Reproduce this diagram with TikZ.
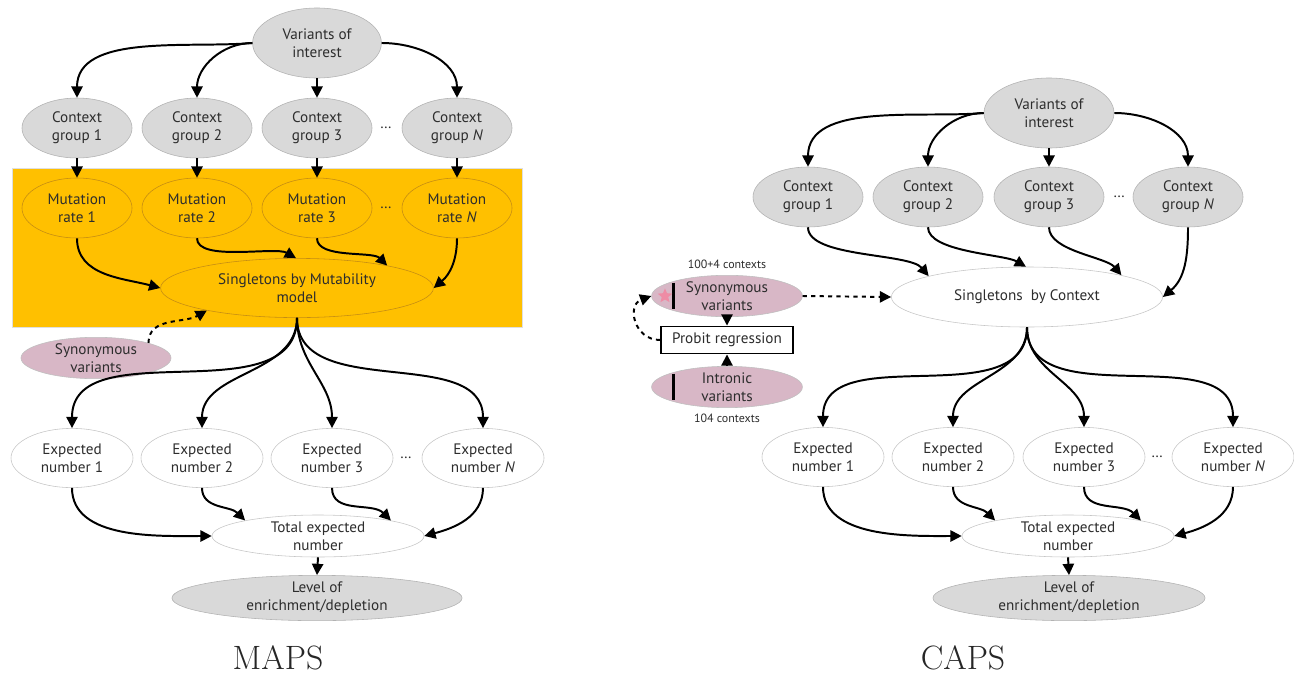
\documentclass[tikz,border=0pt]{standalone}
\usepackage{fontspec}
\newfontfamily\diagfont{PT Sans}
\usetikzlibrary{shapes.geometric,arrows.meta,positioning}
\definecolor{boxorange}{RGB}{255,192,0}
\definecolor{mutline}{RGB}{196,140,20}
\definecolor{nodegrey}{RGB}{217,217,217}
\definecolor{nodepink}{RGB}{216,183,198}
\definecolor{starpink}{RGB}{238,140,165}
\definecolor{txtgrey}{RGB}{45,45,45}

\begin{document}
\begin{tikzpicture}[x=0.025cm, y=0.025cm,
    every node/.style={font=\diagfont\fontsize{10.8}{13}\selectfont, text=txtgrey, align=center},
    greynode/.style={ellipse, draw=gray!60, fill=nodegrey, inner sep=0pt, minimum width=2.75cm, minimum height=1.5cm},
    mutnode/.style={ellipse, draw=mutline, inner sep=0pt, minimum width=2.75cm, minimum height=1.5cm},
    expnode/.style={ellipse, draw=gray!45, fill=white, inner sep=0pt, minimum width=3.05cm, minimum height=1.48cm},
    pinknode/.style={ellipse, draw=gray!50, fill=nodepink, inner sep=0pt, minimum width=3.77cm, minimum height=0.97cm},
    smalllbl/.style={font=\diagfont\fontsize{8.5}{10}\selectfont},
    paneltitle/.style={font=\fontsize{24}{28}\selectfont, text=black!85},
    arr/.style={-{Triangle[length=8pt,width=8pt]}, line width=1.4pt},
    dasharr/.style={arr, dashed}]
    \useasboundingbox (0,0) rectangle (1294,-677);

    % ---------------- MAPS ----------------
    \fill[boxorange, draw=gray!25] (12,-168) rectangle (522,-327);
    \node[greynode, minimum width=3.22cm, minimum height=1.75cm] (mvar) at (317,-43) {Variants of\\interest};
    \foreach \x/\n/\t in {77/1/1, 197/2/2, 317/3/3, 457/n/\textit{N}} {
        \node[greynode] (mctx\n) at (\x,-128) {Context\\group \t};
        \node[mutnode] (mmut\n) at (\x,-208) {Mutation\\rate \t};
        \draw[arr] (mctx\n.south) -- (mmut\n.north);
    }
    \node (mctxdots) at (386,-128) {\dots};
    \node (mmutdots) at (386,-208) {\dots};
    \node[mutnode, minimum width=6.82cm, minimum height=1.48cm] (msing) at (297,-288) {Singletons by Mutability\\model};
    \node[pinknode, minimum width=3.75cm, minimum height=1cm] (msyn) at (96,-358) {Synonymous\\variants};
    \foreach \x/\n/\t in {72/1/1, 202/2/2, 332/3/3, 483/n/\textit{N}}
        \node[expnode] (mexp\n) at (\x,-458) {Expected\\number \t};
    \node (mexpdots) at (406,-458) {\dots};
    \node[expnode, minimum width=5.3cm, minimum height=1.05cm] (mtot) at (318,-536) {Total expected\\number};
    \node[greynode, minimum width=7.25cm, minimum height=0.98cm] (mlev) at (317,-598) {Level of\\enrichment/depletion};
    \node[paneltitle] (mapslbl) at (278,-658) {MAPS};

    \draw[arr] (mvar.west) to[out=185,in=90,looseness=0.9] (mctx1.north);
    \draw[arr] (mvar.west) to[out=180,in=90] (mctx2.north);
    \draw[arr] (mvar.south) -- (mctx3.north);
    \draw[arr] (mvar.east) to[out=0,in=90] (mctxn.north);
    \draw[arr] (mmut1.south) to[out=-90,in=165] (msing.west);
    \draw[arr] (mmut2.south) to[out=-90,in=150,looseness=0.6] (msing.92);
    \draw[arr] (mmut3.south) to[out=-90,in=135,looseness=0.7] (msing.14);
    \draw[arr] (mmutn.south) to[out=-90,in=40] (msing.east);
    \draw[dasharr] (msyn.16) to[out=90,in=210] (msing.194);
    \foreach \n in {1,2,3,n}
        \draw[arr] (msing.south) to[out=-90,in=90] (mexp\n.north);
    \draw[arr] (mexp1.south) to[out=-90,in=180,looseness=0.9] (mtot.west);
    \draw[arr] (mexp2.south) to[out=-90,in=135] (mtot.168);
    \draw[arr] (mexp3.south) to[out=-90,in=135] (mtot.12);
    \draw[arr] (mexpn.south) to[out=-90,in=15] (mtot.east);
    \draw[arr] (mtot.south) -- (mlev.north);

    % ---------------- CAPS ----------------
    \node[greynode, minimum width=3.25cm, minimum height=1.75cm] (cvar) at (1049,-113) {Variants of\\interest};
    \foreach \x/\n/\t in {808/1/1, 928/2/2, 1049/3/3, 1188/n/\textit{N}}
        \node[greynode] (cctx\n) at (\x,-197) {Context\\group \t};
    \node (cctxdots) at (1119,-197) {\dots};
    \node[expnode, minimum width=6.78cm, minimum height=1.5cm] (csing) at (1027,-297) {Singletons~ by Context};
    \node[pinknode] (csyn) at (727,-296) {Synonymous\\variants};
    \node[draw=black, line width=1.2pt, fill=white, minimum width=3.3cm, minimum height=0.68cm, inner sep=0pt] (probit) at (727,-340) {Probit regression};
    \node[pinknode] (cintr) at (727,-387) {Intronic\\variants};
    \node[smalllbl, above=0.03cm of csyn] (csynlbl) {100+4 contexts};
    \node[smalllbl, below=0.03cm of cintr] (cintrlbl) {104 contexts};
    \draw[line width=2pt] ([xshift=-1.33cm,yshift=0.335cm]csyn.center) -- ([xshift=-1.33cm,yshift=-0.335cm]csyn.center);
    \draw[line width=2pt] ([xshift=-1.33cm,yshift=0.335cm]cintr.center) -- ([xshift=-1.33cm,yshift=-0.335cm]cintr.center);
    \node[star, star points=5, star point ratio=2.2, fill=starpink, inner sep=0pt, minimum size=0.38cm] (cstar) at ([xshift=-1.55cm]csyn.center) {};
    \foreach \x/\n/\t in {823/1/1, 953/2/2, 1084/3/3, 1233/n/\textit{N}}
        \node[expnode] (cexp\n) at (\x,-457) {Expected\\number \t};
    \node (cexpdots) at (1157,-457) {\dots};
    \node[expnode, minimum width=5.3cm, minimum height=1.05cm] (ctot) at (1068,-536) {Total expected\\number};
    \node[greynode, minimum width=6.8cm, minimum height=0.98cm] (clev) at (1069,-598) {Level of\\enrichment/depletion};
    \node[paneltitle] (capslbl) at (963,-658) {CAPS};

    \draw[arr] (cvar.west) to[out=185,in=90,looseness=0.9] (cctx1.north);
    \draw[arr] (cvar.west) to[out=180,in=90] (cctx2.north);
    \draw[arr] (cvar.south) -- (cctx3.north);
    \draw[arr] (cvar.east) to[out=0,in=90] (cctxn.north);
    \draw[arr] (cctx1.south) to[out=-90,in=130,looseness=0.6] (csing.168);
    \draw[arr] (cctx2.south) to[out=-90,in=150,looseness=0.6] (csing.92);
    \draw[arr] (cctx3.south) to[out=-90,in=130,looseness=0.7] (csing.13);
    \draw[arr] (cctxn.south) to[out=-90,in=40] (csing.east);
    \draw[dasharr] (csyn.east) -- (csing.west);
    \draw[arr] (csyn.south) -- (probit.north);
    \draw[arr] (cintr.north) -- (probit.south);
    \draw[dasharr] (probit.west) to[out=180,in=200,looseness=1.5] (csyn.west);
    \foreach \n in {1,2,3,n}
        \draw[arr] (csing.south) to[out=-90,in=90] (cexp\n.north);
    \draw[arr] (cexp1.south) to[out=-90,in=180,looseness=0.9] (ctot.west);
    \draw[arr] (cexp2.south) to[out=-90,in=135] (ctot.168);
    \draw[arr] (cexp3.south) to[out=-90,in=135] (ctot.12);
    \draw[arr] (cexpn.south) to[out=-90,in=15] (ctot.east);
    \draw[arr] (ctot.south) -- (clev.north);
\end{tikzpicture}
\end{document}
